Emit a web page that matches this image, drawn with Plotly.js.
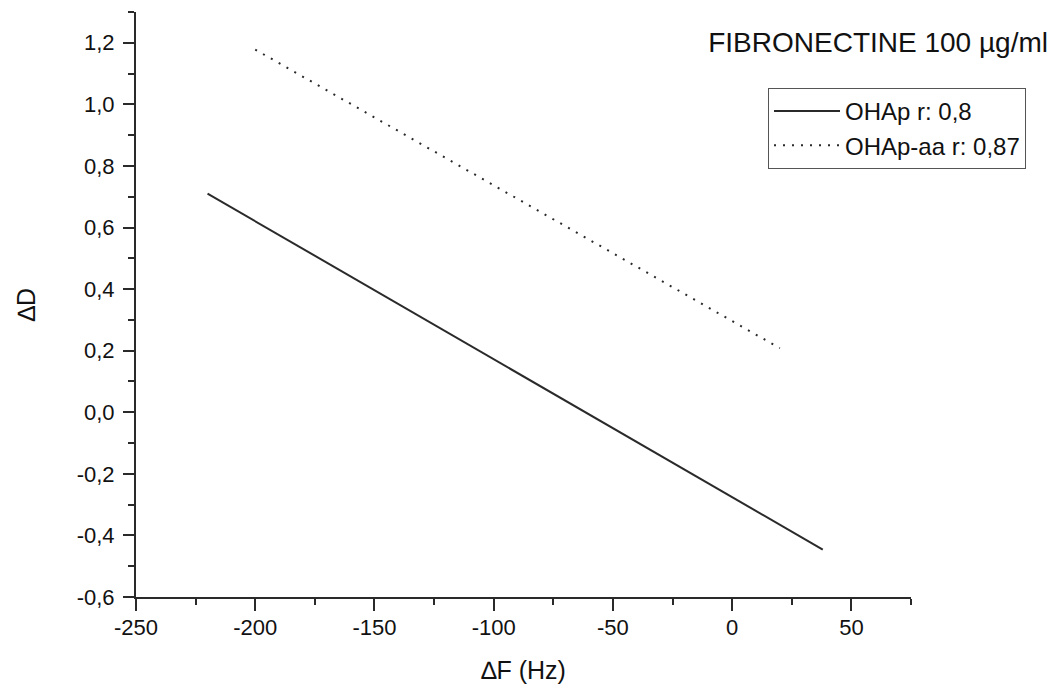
<!DOCTYPE html>
<html>
<head>
<meta charset="utf-8">
<script src="https://cdn.plot.ly/plotly-3.0.1.min.js"></script>
<style>html,body{margin:0;padding:0;background:#fff;}#chart{width:1058px;height:690px;}</style>
</head>
<body>
<div id="chart"></div>
<script>
// Data (fitted regression lines)
const ohapX = [-220, 38];
const ohapY = [0.71, -0.446];
const ohapAaX = [-200, 20];
const ohapAaY = [1.178, 0.208];

const seriesNames = ["OHAp r: 0,8", "OHAp-aa r: 0,87"];
const xTickVals = [-250, -200, -150, -100, -50, 0, 50];
const xTickText = ["-250", "-200", "-150", "-100", "-50", "0", "50"];
const yTickVals = [-0.6, -0.4, -0.2, 0.0, 0.2, 0.4, 0.6, 0.8, 1.0, 1.2];
const yTickText = ["-0,6", "-0,4", "-0,2", "0,0", "0,2", "0,4", "0,6", "0,8", "1,0", "1,2"];

const font = "'Liberation Sans', Arial, sans-serif";
const ink = "#2a2a2a";
const txt = "#111";

const traces = [
  {x: ohapX, y: ohapY, mode: "lines", name: seriesNames[0],
   line: {color: ink, width: 2}},
  {x: ohapAaX, y: ohapAaY, mode: "lines", name: seriesNames[1],
   line: {color: ink, width: 2, dash: "2px,7px"}}
];

const layout = {
  width: 1058, height: 690,
  margin: {l: 136, r: 147, t: 12, b: 93},
  paper_bgcolor: "#fff", plot_bgcolor: "#fff",
  font: {family: font, color: txt, size: 22},
  showlegend: true,
  title: {text: "FIBRONECTINE 100 µg/ml", x: 1048/1058, xanchor: "right", xref: "container",
          y: 1 - 42/690, yanchor: "middle", yref: "container",
          font: {family: font, size: 28, color: txt}},
  legend: {x: (768-136)/775, y: (597-88)/585, xanchor: "left", yanchor: "top",
           bordercolor: "#555", borderwidth: 1, bgcolor: "#fff",
           font: {family: font, size: 24, color: txt},
           tracegroupgap: 0, itemwidth: 66},
  xaxis: {range: [-250, 75], showgrid: false, zeroline: false,
          showline: true, linecolor: ink, linewidth: 2, mirror: false,
          tickmode: "array", tickvals: xTickVals, ticktext: xTickText,
          ticks: "outside", ticklen: 12, tickwidth: 2, tickcolor: ink,
          ticklabelstandoff: -2,
          tickfont: {family: font, size: 22, color: txt},
          minor: {dtick: 25, tick0: -250, ticks: "outside", ticklen: 6, tickwidth: 2, tickcolor: ink, showgrid: false},
          title: {text: "∆F (Hz)", standoff: 22, font: {family: font, size: 25, color: txt}}},
  yaxis: {range: [-0.6, 1.3], showgrid: false, zeroline: false,
          showline: true, linecolor: ink, linewidth: 2, mirror: false,
          tickmode: "array", tickvals: yTickVals, ticktext: yTickText,
          ticks: "outside", ticklen: 11, tickwidth: 2, tickcolor: ink,
          ticklabelstandoff: 4,
          tickfont: {family: font, size: 22, color: txt},
          minor: {dtick: 0.1, tick0: -0.6, ticks: "outside", ticklen: 6, tickwidth: 2, tickcolor: ink, showgrid: false},
          title: {text: "∆D", standoff: 34, font: {family: font, size: 25, color: txt}}}
};

Plotly.newPlot("chart", traces, layout, {displayModeBar: false, staticPlot: true});
</script>
</body>
</html>
